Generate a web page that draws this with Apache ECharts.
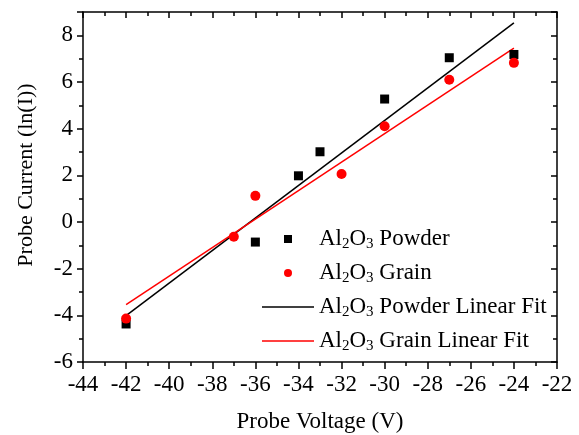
<!DOCTYPE html>
<html>
<head>
<meta charset="utf-8">
<script src="https://cdn.jsdelivr.net/npm/echarts@6/dist/echarts.min.js"></script>
<style>html,body{margin:0;padding:0;background:#fff}#c{width:579px;height:435px}</style>
</head>
<body>
<div id="c"></div>
<script>
// ---- data ----
const powderX = [-42, -36, -34, -33, -30, -27, -24];
const powderY = [-4.37, -0.86, 1.98, 3.01, 5.27, 7.04, 7.18];
const grainX = [-42, -37, -36, -32, -30, -27, -24];
const grainY = [-4.14, -0.63, 1.12, 2.06, 4.10, 6.10, 6.82];
const powderFitX = [-42, -24];
const powderFitY = [-4.01, 8.53];
const grainFitX = [-42, -24];
const grainFitY = [-3.54, 7.45];
const seriesNames = ['Al2O3 Powder', 'Al2O3 Grain', 'Al2O3 Powder Linear Fit', 'Al2O3 Grain Linear Fit'];
const xTitle = 'Probe Voltage (V)';
const yTitle = 'Probe Current (ln(I))';

const zip = (a, b) => a.map((v, i) => [v, b[i]]);
const FONT = 'Liberation Serif';
const SQUARE = 'path://M0,0L10,0L10,10L0,10Z';
const CIRCLE = 'path://M5,0A5,5,0,1,1,5,10A5,5,0,1,1,5,0Z';
const LINEICON = 'path://M0,0L52,0L52,1.6L0,1.6Z';

const chart = echarts.init(document.getElementById('c'), null, {renderer: 'canvas'});
const axisCommon = {
  axisLine: {show: true, onZero: false, lineStyle: {color: '#000', width: 1.5}},
  splitLine: {show: false},
  minorSplitLine: {show: false}
};
const tickStyle = {color: '#000', width: 1.5};
chart.setOption({
  animation: false,
  backgroundColor: '#fff',
  grid: {left: 83, right: 22, top: 12, bottom: 73, containLabel: false, outerBoundsMode: 'none'},
  legend: {
    orient: 'vertical',
    left: 262, top: 226, padding: 0,
    itemWidth: 52, itemHeight: 8, itemGap: 8,
    symbolKeepAspect: true,
    data: [
      {name: seriesNames[0], icon: SQUARE},
      {name: seriesNames[1], icon: CIRCLE},
      {name: seriesNames[2], icon: LINEICON},
      {name: seriesNames[3], icon: LINEICON}
    ],
    formatter: n => n.replace('Al2O3', 'Al{s|2}O{s|3}'),
    textStyle: {
      fontFamily: FONT, fontSize: 23, color: '#000', lineHeight: 26,
      rich: {s: {fontFamily: FONT, fontSize: 15, lineHeight: 9, verticalAlign: 'bottom', color: '#000'}}
    }
  },
  xAxis: [
    Object.assign({}, axisCommon, {
      type: 'value', position: 'bottom', min: -44, max: -22, interval: 2,
      name: xTitle, nameLocation: 'middle', nameGap: 48,
      nameTextStyle: {fontFamily: FONT, fontSize: 23, color: '#000'},
      axisTick: {show: true, inside: false, length: 7, lineStyle: tickStyle},
      minorTick: {show: true, splitNumber: 2, length: 4, lineStyle: tickStyle},
      axisLabel: {fontFamily: FONT, fontSize: 23, color: '#000', margin: 11}
    }),
    Object.assign({}, axisCommon, {
      type: 'value', position: 'top', min: -44, max: -22, interval: 2,
      axisTick: {show: true, inside: true, length: 6, lineStyle: tickStyle},
      minorTick: {show: true, splitNumber: 2, length: 4, lineStyle: tickStyle},
      axisLabel: {show: false}
    })
  ],
  yAxis: [
    Object.assign({}, axisCommon, {
      type: 'value', position: 'left', min: -6, max: 9, interval: 2,
      name: yTitle, nameLocation: 'middle', nameGap: 46,
      nameTextStyle: {fontFamily: FONT, fontSize: 22, color: '#000', padding: [0, 0, 0, 24]},
      axisTick: {show: true, inside: false, length: 6, lineStyle: tickStyle},
      minorTick: {show: true, splitNumber: 2, length: 4, lineStyle: tickStyle},
      axisLabel: {fontFamily: FONT, fontSize: 23, color: '#000', margin: 10, showMaxLabel: false,
        formatter: v => (v === 9 ? '' : String(v))}
    }),
    Object.assign({}, axisCommon, {
      type: 'value', position: 'right', min: -6, max: 9, interval: 2,
      axisTick: {show: true, inside: true, length: 6, lineStyle: tickStyle},
      minorTick: {show: true, splitNumber: 2, length: 4, lineStyle: tickStyle},
      axisLabel: {show: false}
    })
  ],
  series: [
    {name: seriesNames[0], type: 'scatter', symbol: 'rect', symbolSize: 9,
     itemStyle: {color: '#000', opacity: 1}, data: zip(powderX, powderY), z: 5},
    {name: seriesNames[1], type: 'scatter', symbol: 'circle', symbolSize: 10,
     itemStyle: {color: '#ff0000', opacity: 1}, data: zip(grainX, grainY), z: 5},
    {name: seriesNames[2], type: 'line', symbol: 'none', showSymbol: false,
     lineStyle: {color: '#000', width: 1.5}, itemStyle: {color: '#000'}, data: zip(powderFitX, powderFitY)},
    {name: seriesNames[3], type: 'line', symbol: 'none', showSymbol: false,
     lineStyle: {color: '#ff0000', width: 1.5}, itemStyle: {color: '#ff0000'}, data: zip(grainFitX, grainFitY)}
  ]
});
</script>
</body>
</html>
